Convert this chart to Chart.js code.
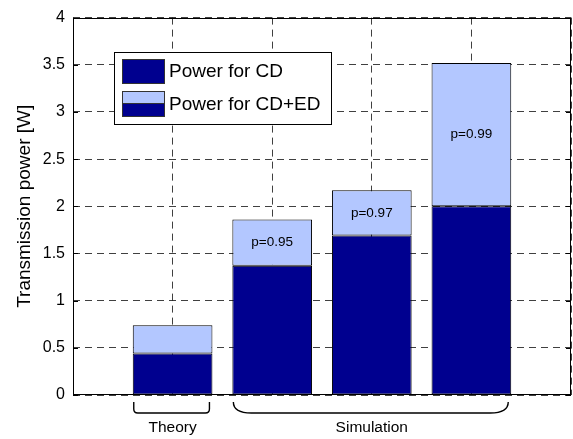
<!DOCTYPE html>
<html>
<head>
<meta charset="utf-8">
<script src="https://cdn.jsdelivr.net/npm/chart.js@4.4.0/dist/chart.umd.min.js"></script>
<style>
  html, body { margin: 0; padding: 0; background: #fff; }
  #wrap { width: 573px; height: 439px; }
</style>
</head>
<body>
<div id="wrap"><canvas id="myChart" width="573" height="439"></canvas></div>
<script>
// x positions 0..5, bars sit on 1..4 (ends left empty like the original axis limits)
const categories = ['', 'Theory', 'Sim p=0.95', 'Sim p=0.97', 'Sim p=0.99', ''];
const probLabels = ['', '', 'p=0.95', 'p=0.97', 'p=0.99', ''];
const groupLabels = ['Theory', 'Simulation'];
const groupRanges = [[1, 1], [2, 4]];
const powerCD = [null, 0.44, 1.37, 1.69, 2.00, null];
const powerCDED = [null, 0.74, 1.86, 2.17, 3.52, null];
const yMin = 0, yMax = 4, yStep = 0.5;

const darkBlue = '#00008F';
const lightBlue = '#B3C7FF';
const fontFamily = '"Liberation Sans", Arial, Helvetica, sans-serif';

const extraED = powerCDED.map((v, i) => (v === null ? null : v - powerCD[i]));

// box around the plot + little inside ticks
const framePlugin = {
    id: 'frame',
    afterDatasetsDraw(chart) {
        const { ctx, chartArea: a, scales } = chart;
        ctx.save();
        ctx.strokeStyle = '#000';
        ctx.lineWidth = 1;
        ctx.strokeRect(Math.round(a.left) + 0.5, Math.round(a.top) + 0.5,
            Math.round(a.right - a.left) - 1, Math.round(a.bottom - a.top) - 1);
        ctx.beginPath();
        for (let v = yMin; v <= yMax; v += yStep) {
            const y = Math.round(scales.y.getPixelForValue(v)) + 0.5;
            ctx.moveTo(a.left, y); ctx.lineTo(a.left + 5, y);
            ctx.moveTo(a.right, y); ctx.lineTo(a.right - 5, y);
        }
        ctx.stroke();
        ctx.restore();
    }
};

// p=... text in the middle of the light segment
const probLabelPlugin = {
    id: 'probLabels',
    afterDatasetsDraw(chart) {
        const { ctx } = chart;
        const meta = chart.getDatasetMeta(1);
        ctx.save();
        ctx.font = '13.5px ' + fontFamily;
        ctx.fillStyle = '#000';
        ctx.textAlign = 'center';
        ctx.textBaseline = 'middle';
        probLabels.forEach((txt, i) => {
            if (!txt) return;
            const el = meta.data[i];
            ctx.fillText(txt, el.x, (el.y + el.base) / 2);
        });
        ctx.restore();
    }
};

// braces under the bars with group names
const bracketPlugin = {
    id: 'brackets',
    afterDraw(chart) {
        const { ctx } = chart;
        const meta = chart.getDatasetMeta(0);
        ctx.save();
        ctx.strokeStyle = '#000';
        ctx.lineWidth = 1.4;
        ctx.font = '15.5px ' + fontFamily;
        ctx.fillStyle = '#000';
        ctx.textAlign = 'center';
        ctx.textBaseline = 'alphabetic';
        const yTop = chart.chartArea.bottom + 7;
        const yBot = chart.chartArea.bottom + 18;
        groupRanges.forEach(([from, to], g) => {
            const first = meta.data[from], last = meta.data[to];
            const x0 = first.x - first.width / 2 + 1;
            const x1 = last.x + last.width / 2 - 3;
            ctx.beginPath();
            if (to > from) {
                ctx.moveTo(x0, yTop);
                ctx.bezierCurveTo(x0, yBot - 3, x0 + 6, yBot, x0 + 18, yBot);
                ctx.lineTo(x1 - 18, yBot);
                ctx.bezierCurveTo(x1 - 6, yBot, x1, yBot - 3, x1, yTop);
            } else {
                ctx.moveTo(x0, yTop);
                ctx.lineTo(x0, yBot - 4);
                ctx.quadraticCurveTo(x0, yBot, x0 + 4, yBot);
                ctx.lineTo(x1 - 4, yBot);
                ctx.quadraticCurveTo(x1, yBot, x1, yBot - 4);
                ctx.lineTo(x1, yTop);
            }
            ctx.stroke();
            const cx = (first.x + last.x) / 2;
            ctx.fillText(groupLabels[g], cx, chart.chartArea.bottom + 37);
        });
        ctx.restore();
    }
};

// legend box, second swatch split dark/light like the stacked bar
const legendPlugin = {
    id: 'boxLegend',
    afterDraw(chart) {
        const { ctx } = chart;
        const bx = 114.5, by = 52.5, bw = 217, bh = 72;
        ctx.save();
        ctx.fillStyle = '#fff';
        ctx.fillRect(bx, by, bw, bh);
        ctx.strokeStyle = '#000';
        ctx.lineWidth = 1;
        ctx.strokeRect(bx, by, bw, bh);
        ctx.font = '19px ' + fontFamily;
        ctx.textBaseline = 'middle';
        ctx.textAlign = 'left';
        // entry 1
        ctx.fillStyle = darkBlue;
        ctx.fillRect(122.5, 59.5, 42, 24);
        ctx.strokeStyle = '#333';
        ctx.strokeRect(122.5, 59.5, 42, 24);
        ctx.fillStyle = '#000';
        ctx.fillText(chart.data.datasets[0].label, 169, 72);
        // entry 2
        ctx.fillStyle = lightBlue;
        ctx.fillRect(122.5, 91.5, 42, 12);
        ctx.fillStyle = darkBlue;
        ctx.fillRect(122.5, 103.5, 42, 13);
        ctx.strokeRect(122.5, 91.5, 42, 25);
        ctx.beginPath();
        ctx.moveTo(122.5, 103.5); ctx.lineTo(164.5, 103.5);
        ctx.stroke();
        ctx.fillStyle = '#000';
        ctx.fillText(chart.data.datasets[1].label, 169, 105);
        ctx.restore();
    }
};

const ctx = document.getElementById('myChart').getContext('2d');
new Chart(ctx, {
    type: 'bar',
    data: {
        labels: categories,
        datasets: [{
            label: 'Power for CD',
            data: powerCD,
            backgroundColor: darkBlue,
            borderColor: '#000',
            borderWidth: 1,
            borderSkipped: false,
            barPercentage: 0.8,
            categoryPercentage: 1
        }, {
            label: 'Power for CD+ED',
            data: extraED,
            backgroundColor: lightBlue,
            borderColor: '#000',
            borderWidth: 1,
            borderSkipped: false,
            barPercentage: 0.8,
            categoryPercentage: 1
        }]
    },
    options: {
        responsive: false,
        animation: false,
        layout: { padding: { left: 0, right: 2, top: 14, bottom: 0 } },
        plugins: {
            legend: { display: false },
            tooltip: { enabled: false }
        },
        scales: {
            x: {
                stacked: true,
                offset: false,
                grid: { offset: false, color: 'rgba(0,0,0,0.75)', drawTicks: false },
                border: { display: false, dash: [7, 5] },
                ticks: { display: false },
                afterFit: s => { s.height = 44; }
            },
            y: {
                stacked: true,
                min: yMin,
                max: yMax,
                ticks: {
                    stepSize: yStep,
                    color: '#000',
                    padding: 8,
                    font: { family: fontFamily, size: 16 },
                    callback: v => String(Math.round(v * 10) / 10)
                },
                grid: { color: 'rgba(0,0,0,0.75)', drawTicks: false },
                border: { display: false, dash: [7, 5] },
                title: {
                    display: true,
                    text: 'Transmission power [W]',
                    color: '#000',
                    font: { family: fontFamily, size: 19 },
                    padding: { top: 13, bottom: 0 }
                },
                afterFit: s => { s.width = 73; }
            }
        }
    },
    plugins: [framePlugin, probLabelPlugin, bracketPlugin, legendPlugin]
});
</script>
</body>
</html>
